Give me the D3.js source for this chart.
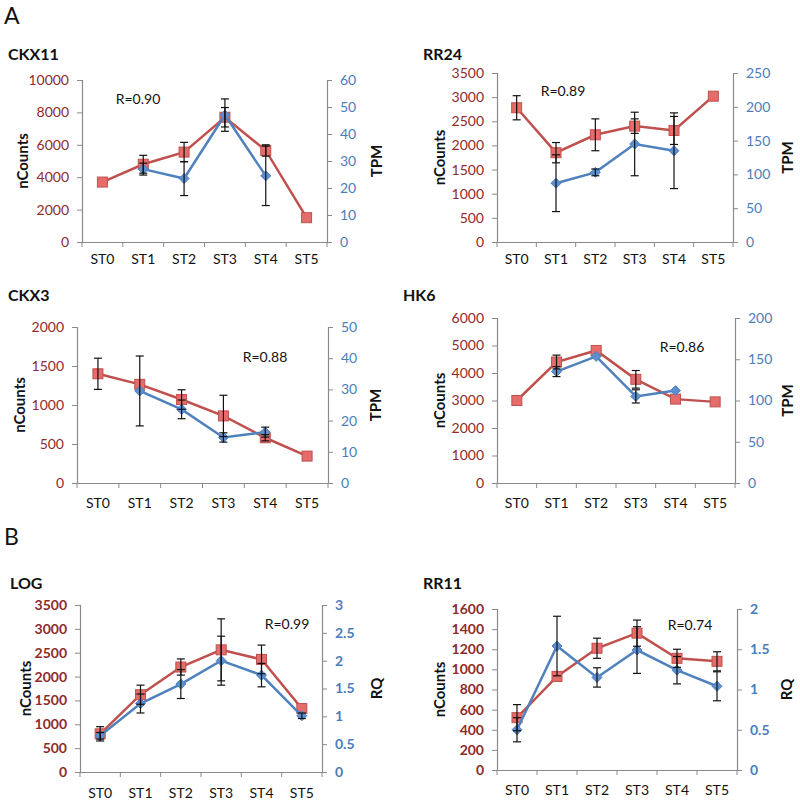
<!DOCTYPE html>
<html><head><meta charset="utf-8">
<script src="https://cdn.jsdelivr.net/npm/d3@7"></script>
<style>
body{margin:0;background:#fff;}
svg{display:block;font-family:Lato,"Open Sans",sans-serif;}
</style></head>
<body><svg id="c" width="800" height="804"></svg>
<script>
const stages = ["ST0","ST1","ST2","ST3","ST4","ST5"];

// CKX11
const ckx11Counts = [3700,4800,5550,7700,5650,1500];
const ckx11CountsErr = [0,550,600,600,350,0];
const ckx11Tpm = [null,27,23.5,47,24.5,null];
const ckx11TpmErr = [0,2.2,6.3,6,11,0];
// RR24
const rr24Counts = [2780,1850,2220,2400,2310,3020];
const rr24CountsErr = [250,210,330,150,290,0];
const rr24Tpm = [null,87,103,145,135,null];
const rr24TpmErr = [0,42,5,47,56,0];
// CKX3
const ckx3Counts = [1400,1265,1070,860,580,345];
const ckx3CountsErr = [200,0,125,265,40,0];
const ckx3Tpm = [null,29.5,23.6,14.6,16.3,null];
const ckx3TpmErr = [0,11.2,3,1.5,1.6,0];
// HK6
const hk6Counts = [3000,4400,4820,3770,3050,2950];
const hk6CountsErr = [0,250,0,320,0,0];
const hk6Tpm = [null,135,153.5,105,112,null];
const hk6TpmErr = [0,6,0,8,0,0];
// LOG
const logCounts = [800,1620,2200,2560,2360,1330];
const logCountsErr = [150,200,170,650,300,0];
const logRq = [0.65,1.23,1.58,2.0,1.74,1.01];
const logRqErr = [0.06,0.17,0.26,0.44,0.21,0.05];
// RR11
const rr11Counts = [520,930,1210,1360,1110,1080];
const rr11CountsErr = [130,0,100,130,90,95];
const rr11Rq = [0.5,1.54,1.15,1.49,1.24,1.04];
const rr11RqErr = [0.15,0.37,0.12,0.29,0.17,0.18];

const leftMax = [10000,3500,2000,6000,3500,1600];
const leftStep = [2000,500,500,1000,500,200];
const rightMax = [60,250,50,200,3,2];
const rightStep = [10,50,10,50,0.5,0.5];
const titles = ["CKX11","RR24","CKX3","HK6","LOG","RR11"];
const rightTitles = ["TPM","TPM","TPM","TPM","RQ","RQ"];
const rLabels = ["R=0.90","R=0.89","R=0.88","R=0.86","R=0.99","R=0.74"];
const panelLetters = ["A","B"];

const seriesL = [ckx11Counts,rr24Counts,ckx3Counts,hk6Counts,logCounts,rr11Counts];
const seriesLErr = [ckx11CountsErr,rr24CountsErr,ckx3CountsErr,hk6CountsErr,logCountsErr,rr11CountsErr];
const seriesR = [ckx11Tpm,rr24Tpm,ckx3Tpm,hk6Tpm,logRq,rr11Rq];
const seriesRErr = [ckx11TpmErr,rr24TpmErr,ckx3TpmErr,hk6TpmErr,logRqErr,rr11RqErr];

// layout: [left, right, top, bottom, titleX, titleY, rX, rY, xLabelOff, leftTitleOff, rightTitleOff]
const layout = [
  [82,327,80,242, 8,54, 138,99, 17, 59, 50],
  [497,733,73,242, 423,54, 563,91, 17, 57, 55],
  [77,328,327,483, 8,295, 265,357, 20, 57, 48],
  [497,735,318,483, 403,295, 682,347, 20, 57, 53],
  [80,322,605,772, 10,583, 287,624, 21, 54, 55],
  [497,737,609,770, 423,583, 690,625, 20, 57, 50]
];

const red = "#c0504d", redFill = "#e46c6a", blue = "#4f81bd", blueFill = "#5b8fd0";
const darkRed = "#8e2b2a", tickBlue = "#4a7ebb", axisGray = "#8a8a8a";

const svg = d3.select("#c");
svg.append("text").attr("x",4).attr("y",24).attr("font-size",23).attr("fill","#111").text(panelLetters[0]);
svg.append("text").attr("x",4).attr("y",545).attr("font-size",23).attr("fill","#111").text(panelLetters[1]);

layout.forEach((L,i)=>{
  const [x0,x1,y0,y1,tx,ty,rx,ry,xlo,lto,rto] = L;
  const bold = i>=4;
  const g = svg.append("g");
  const x = d3.scaleBand().domain(stages).range([x0,x1]).padding(0);
  const cx = d => x(d)+x.bandwidth()/2;
  const yL = d3.scaleLinear().domain([0,leftMax[i]]).range([y1,y0]);
  const yR = d3.scaleLinear().domain([0,rightMax[i]]).range([y1,y0]);

  // title
  g.append("text").attr("x",tx).attr("y",ty+6).attr("font-size",16).attr("font-weight","bold").attr("fill","#111").text(titles[i]);

  // left axis
  const la = g.append("g").attr("transform",`translate(${x0},0)`)
    .call(d3.axisLeft(yL).tickValues(d3.range(0,leftMax[i]+1e-9,leftStep[i])).tickSize(5).tickPadding(8).tickFormat(d3.format("d")));
  la.select(".domain").attr("stroke",axisGray).attr("stroke-width",1.2);
  la.selectAll(".tick line").attr("stroke",axisGray);
  la.selectAll(".tick text").attr("fill",darkRed).attr("font-size",14).attr("font-family","Lato,sans-serif").attr("font-weight",bold?"bold":"normal");

  // right axis
  const ra = g.append("g").attr("transform",`translate(${x1},0)`)
    .call(d3.axisRight(yR).tickValues(d3.range(0,rightMax[i]+1e-9,rightStep[i])).tickSize(5).tickPadding(8).tickFormat(d=>String(+d.toFixed(2))));
  ra.select(".domain").attr("stroke",axisGray).attr("stroke-width",1.2);
  ra.selectAll(".tick line").attr("stroke",axisGray);
  ra.selectAll(".tick text").attr("fill",tickBlue).attr("font-size",14).attr("font-family","Lato,sans-serif").attr("font-weight",bold?"bold":"normal");

  // bottom axis
  const ba = g.append("g").attr("transform",`translate(0,${y1})`)
    .call(d3.axisBottom(x).tickSize(0).tickPadding(xlo-5));
  ba.select(".domain").attr("stroke",axisGray).attr("stroke-width",1.2);
  ba.selectAll(".tick text").attr("fill","#111").attr("font-size",14).attr("font-family","Lato,sans-serif");
  const bounds = stages.map(s=>x(s)).concat([x1]);
  g.selectAll(".xb").data(bounds).enter().append("line")
    .attr("x1",d=>d).attr("x2",d=>d).attr("y1",y1).attr("y2",y1+5).attr("stroke",axisGray);

  // axis titles
  const ym = (y0+y1)/2;
  g.append("text").attr("transform",`translate(${x0-lto},${ym}) rotate(-90)`).attr("text-anchor","middle")
    .attr("dy","0.35em").attr("font-size",15).attr("font-weight","bold").attr("fill","#111").text("nCounts");
  g.append("text").attr("transform",`translate(${x1+rto},${ym}) rotate(-90)`).attr("text-anchor","middle")
    .attr("dy","0.35em").attr("font-size",15).attr("font-weight","bold").attr("fill","#111").text(rightTitles[i]);

  // R label
  g.append("text").attr("x",rx).attr("y",ry).attr("text-anchor","middle").attr("dy","0.35em")
    .attr("font-size",14).attr("fill","#111").text(rLabels[i]);

  const dl = stages.map((s,k)=>({s,v:seriesL[i][k],e:seriesLErr[i][k]}));
  const dr = stages.map((s,k)=>({s,v:seriesR[i][k],e:seriesRErr[i][k]}));

  // red line + markers
  g.append("path").datum(dl).attr("fill","none").attr("stroke",red).attr("stroke-width",2.5)
    .attr("d",d3.line().defined(d=>d.v!=null).x(d=>cx(d.s)).y(d=>yL(d.v)));
  g.selectAll(".sq").data(dl.filter(d=>d.v!=null)).enter().append("rect")
    .attr("x",d=>cx(d.s)-5).attr("y",d=>yL(d.v)-5).attr("width",10).attr("height",10)
    .attr("fill",redFill).attr("stroke",red).attr("stroke-width",1);

  // blue line + markers
  g.append("path").datum(dr).attr("fill","none").attr("stroke",blue).attr("stroke-width",2.5)
    .attr("d",d3.line().defined(d=>d.v!=null).x(d=>cx(d.s)).y(d=>yR(d.v)));
  g.selectAll(".dm").data(dr.filter(d=>d.v!=null)).enter().append("path")
    .attr("transform",d=>`translate(${cx(d.s)},${yR(d.v)})`)
    .attr("d","M0,-5L5,0L0,5L-5,0Z").attr("fill",blueFill).attr("stroke",blue).attr("stroke-width",1);

  // error bars
  const errs = dl.filter(d=>d.v!=null&&d.e>0).map(d=>({x:cx(d.s),a:yL(d.v+d.e),b:yL(d.v-d.e)}))
    .concat(dr.filter(d=>d.v!=null&&d.e>0).map(d=>({x:cx(d.s),a:yR(d.v+d.e),b:yR(d.v-d.e)})));
  const eg = g.selectAll(".eb").data(errs).enter().append("g").attr("stroke","#111").attr("stroke-width",1.2);
  eg.append("line").attr("x1",d=>d.x).attr("x2",d=>d.x).attr("y1",d=>d.a).attr("y2",d=>d.b);
  eg.append("line").attr("x1",d=>d.x-4).attr("x2",d=>d.x+4).attr("y1",d=>d.a).attr("y2",d=>d.a);
  eg.append("line").attr("x1",d=>d.x-4).attr("x2",d=>d.x+4).attr("y1",d=>d.b).attr("y2",d=>d.b);
});
</script></body></html>
